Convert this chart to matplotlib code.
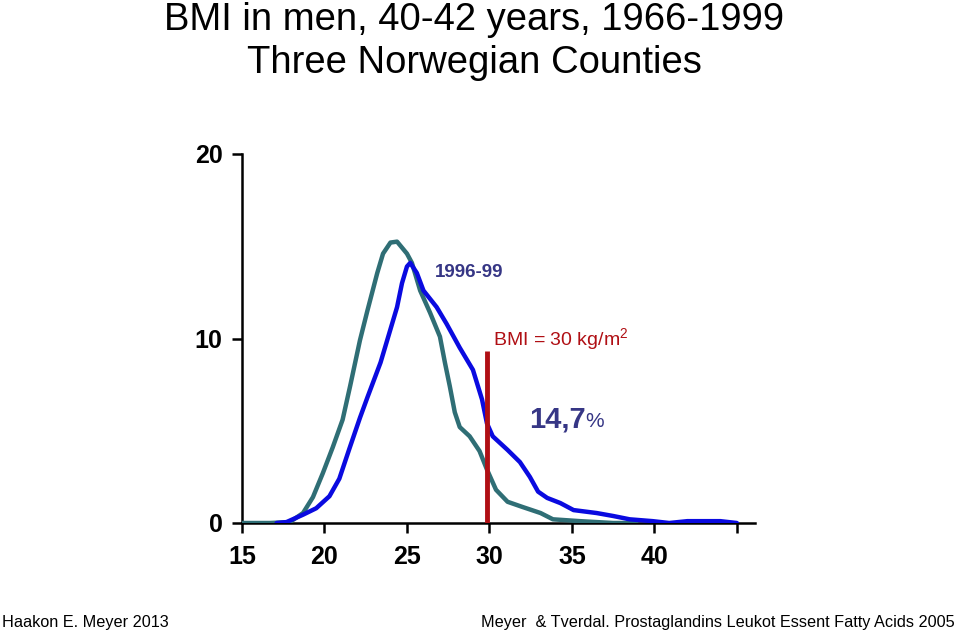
import matplotlib
matplotlib.use("Agg")
import matplotlib.pyplot as plt

# Data (BMI vs % of men)
teal_x = [15.0, 16.7, 17.9, 18.7, 19.3, 19.9, 20.5, 21.1, 21.55, 22.15, 22.6, 23.2, 23.55, 24.0, 24.4,
          25.0, 25.3, 25.8, 26.4, 27.0, 27.3, 27.6, 27.9, 28.2, 28.8, 29.4, 29.85, 30.4, 31.1, 32.0,
          33.1, 33.85, 35.5, 37.5, 38.9]
teal_y = [0.0, 0.0, 0.05, 0.54, 1.4, 2.7, 4.1, 5.6, 7.4, 9.9, 11.5, 13.55, 14.6, 15.2, 15.25,
          14.6, 14.1, 12.6, 11.4, 10.1, 8.7, 7.4, 6.0, 5.2, 4.7, 3.9, 2.9, 1.8, 1.15, 0.87,
          0.54, 0.2, 0.1, 0.0, 0.0]

blue_x = [17.1, 17.7, 18.7, 19.5, 20.3, 20.9, 21.5, 22.15, 22.6, 23.4, 24.0, 24.4, 24.7, 25.0, 25.2,
          25.6, 26.0, 26.8, 27.4, 28.2, 29.0, 29.55, 29.85, 30.2, 31.1, 31.85, 32.45, 32.95, 33.5,
          34.3, 35.1, 36.5, 37.5, 38.5, 39.9, 40.9, 42.0, 44.0, 45.0]
blue_y = [0.0, 0.05, 0.45, 0.8, 1.45, 2.4, 4.0, 5.7, 6.8, 8.7, 10.5, 11.7, 13.0, 13.9, 14.1,
          13.55, 12.6, 11.7, 10.8, 9.5, 8.3, 6.7, 5.4, 4.7, 3.96, 3.3, 2.5, 1.7, 1.36,
          1.08, 0.7, 0.54, 0.38, 0.2, 0.1, 0.0, 0.1, 0.1, 0.0]

x_ticks = [15, 20, 25, 30, 35, 40, 45]
x_ticklabels = ["15", "20", "25", "30", "35", "40", ""]
y_ticks = [0, 10, 20]
cutoff_bmi = 30
cutoff_top = 9.3

FONT = ["Liberation Sans", "DejaVu Sans"]
plt.rcParams['font.family'] = FONT
plt.rcParams['mathtext.fontset'] = 'custom'
plt.rcParams['mathtext.rm'] = 'Liberation Sans'
plt.rcParams['mathtext.it'] = 'Liberation Sans'
plt.rcParams['mathtext.bf'] = 'Liberation Sans:bold'

fig = plt.figure(figsize=(9.6, 6.34), dpi=100)
ax = fig.add_axes([242/960, 1-523/634, (755-242)/960, (523-154)/634])

ax.plot(teal_x, teal_y, color="#2f6e75", lw=3.2, solid_capstyle="round", solid_joinstyle="round", zorder=3)
ax.plot(blue_x, blue_y, color="#0a0ae0", lw=3.2, solid_capstyle="round", solid_joinstyle="round", zorder=4)
ax.vlines(cutoff_bmi - 0.15, 0, cutoff_top, color="#b00f14", lw=3.5, zorder=5)

ax.set_xlim(15, 46.1)
ax.set_ylim(0, 20)
ax.spines['top'].set_visible(False)
ax.spines['right'].set_visible(False)
for s in ("left", "bottom"):
    ax.spines[s].set_linewidth(1.8)
ax.set_xticks(x_ticks)
ax.set_xticklabels(x_ticklabels)
ax.set_yticks(y_ticks)
ax.tick_params(axis='both', direction='out', length=7, width=1.8, labelsize=18)
ax.tick_params(axis='x', pad=9)
ax.tick_params(axis='y', pad=7)
for lab in ax.get_xticklabels() + ax.get_yticklabels():
    lab.set_fontweight('bold')

ax.text(26.7, 13.6, "1996-99", color="#363685", fontsize=13.5, fontweight='bold', ha='left', va='center')
ax.text(30.2, 9.95, "BMI = 30 kg/m$^{2}$", color="#b00f14", fontsize=14, ha='left', va='center')
t1 = ax.text(32.4, 5.6, "14,7", color="#363685", fontsize=21, fontweight='bold', ha='left', va='center')
ax.annotate("%", xy=(1.0, 0.45), xycoords=t1, color="#363685", fontsize=15, ha='left', va='center')

fig.text(0.494, 1-20/634, "BMI in men, 40-42 years, 1966-1999", ha='center', va='center', fontsize=27.5)
fig.text(0.494, 1-63/634, "Three Norwegian Counties", ha='center', va='center', fontsize=27.5)
fig.text(2/960, 1-622/634, "Haakon E. Meyer 2013", ha='left', va='center', fontsize=11.7)
fig.text(955/960, 1-622/634, "Meyer  & Tverdal. Prostaglandins Leukot Essent Fatty Acids 2005", ha='right', va='center', fontsize=11.7)

fig.savefig("out.png", dpi=100)
